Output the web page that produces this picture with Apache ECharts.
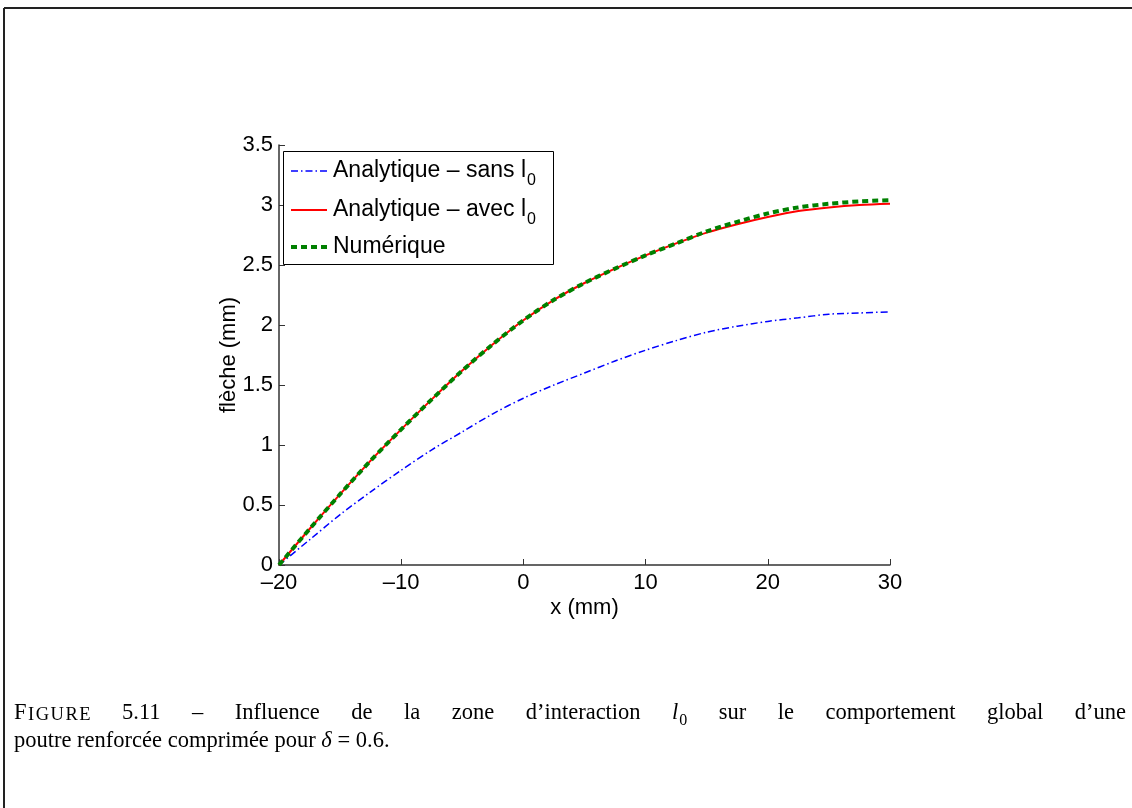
<!DOCTYPE html>
<html><head><meta charset="utf-8">
<script src="https://cdn.jsdelivr.net/npm/echarts@6/dist/echarts.min.js"></script>
<style>html,body{margin:0;padding:0;background:#fff}#c{width:1132px;height:808px}</style>
</head><body><div id="c"></div>
<script>
// ---- data ----
const xValues   = [-20,-17.5,-15,-12.5,-10,-7.5,-5,-2.5,0,2.5,5,7.5,10,12.5,15,17.5,20,22.5,25,27.5,30];
const sansL0    = [0,0.21,0.42,0.61,0.79,0.96,1.11,1.26,1.39,1.50,1.60,1.70,1.79,1.87,1.94,1.99,2.03,2.06,2.09,2.10,2.11];
const avecL0    = [0,0.30,0.59,0.87,1.13,1.38,1.62,1.84,2.04,2.21,2.35,2.47,2.58,2.68,2.77,2.84,2.90,2.95,2.98,3.00,3.01];
const numerique = [0,0.30,0.59,0.87,1.13,1.38,1.62,1.84,2.04,2.21,2.35,2.47,2.58,2.68,2.78,2.86,2.93,2.98,3.01,3.03,3.04];
const seriesNames = ['Analytique – sans l', 'Analytique – avec l', 'Numérique'];
const xTickMin = -20, xTickMax = 30, xTickStep = 10;
const yTickMin = 0, yTickMax = 3.5, yTickStep = 0.5;
const captionLine1 = ['FIGURE','5.11','–','Influence','de','la','zone','d’interaction','l0','sur','le','comportement','global','d’une'];
const captionLine2 = 'poutre renforcée comprimée pour δ = 0.6.';

const SANS = '"Liberation Sans", Arial, sans-serif';
const SERIF = '"Liberation Serif", "Times New Roman", serif';

const ctx = document.createElement('canvas').getContext('2d');
function w(text, font){ ctx.font = font; return ctx.measureText(text).width; }

const pair = a => xValues.map((x,i)=>[x,a[i]]);

const chart = echarts.init(document.getElementById('c'), null, {renderer:'canvas'});

// ---- legend (graphic) ----
const LF = 23;
const legendFont = LF + 'px ' + SANS;
const legendRows = [
  {y:171, color:'#0000ff', width:1.5, dash:[7,3,1.5,3], sub:true},
  {y:210, color:'#ff0000', width:2, dash:null, sub:true},
  {y:247, color:'#008000', width:4, dash:[6,4], sub:false}
];
const graphics = [];
graphics.push({type:'rect', shape:{x:283.5,y:151.5,width:270,height:113}, style:{fill:'#fff', stroke:'#000', lineWidth:1}, z:100});
legendRows.forEach((r,i)=>{
  graphics.push({type:'line', shape:{x1:291,y1:r.y,x2:327,y2:r.y}, style:{stroke:r.color, lineWidth:r.width, lineDash:r.dash||null}, z:101});
  graphics.push({type:'text', x:333, y:r.y, style:{text:seriesNames[i], font:legendFont, fill:'#000', align:'left', verticalAlign:'middle'}, z:101});
  if (r.sub){
    graphics.push({type:'text', x:333 + w(seriesNames[i], legendFont) + 1, y:r.y+10, style:{text:'0', font:'16px '+SANS, fill:'#000', align:'left', verticalAlign:'middle'}, z:101});
  }
});

// ---- page frame ----
graphics.push({type:'line', shape:{x1:4,y1:8,x2:1132,y2:8}, style:{stroke:'#222', lineWidth:2}});
graphics.push({type:'line', shape:{x1:4,y1:8,x2:4,y2:808}, style:{stroke:'#222', lineWidth:2}});

// ---- caption ----
const CF = 22.5;
const capFont = CF + 'px ' + SERIF;
const SCS = 18.5;
const scFont = SCS + 'px ' + SERIF;
const itFont = 'italic ' + CF + 'px ' + SERIF;
const subFont = '16px ' + SERIF;
function textAt(x, baseline, t, font, size){
  graphics.push({type:'text', x:x, y:baseline - 0.33*size, style:{text:t, font:font, fill:'#000', align:'left', verticalAlign:'middle'}});
}
function segs(word){
  if (word === 'FIGURE'){
    const letters = [['F',capFont,CF],['I',scFont,SCS],['G',scFont,SCS],['U',scFont,SCS],['R',scFont,SCS],['E',scFont,SCS]];
    const extra = 1.5;
    let off = 0; const out = [];
    letters.forEach((l,i)=>{ out.push({t:l[0],f:l[1],s:l[2],dx:off,dy:0}); off += w(l[0],l[1]) + (i<letters.length-1?extra:0); });
    out.width = off; return out;
  }
  if (word === 'l0'){
    const a = w('l',itFont);
    const out = [{t:'l',f:itFont,s:CF,dx:0,dy:0},{t:'0',f:subFont,s:16,dx:a+1,dy:5}];
    out.width = a + 1 + w('0',subFont); return out;
  }
  const out = [{t:word,f:capFont,s:CF,dx:0,dy:0}]; out.width = w(word,capFont); return out;
}
const L1x0 = 14, L1x1 = 1126, L1base = 721, L2base = 749;
const words = captionLine1.map(segs);
const total = words.reduce((a,s)=>a+s.width,0);
const gap = (L1x1 - L1x0 - total)/(words.length-1);
let cx = L1x0;
words.forEach(s=>{
  s.forEach(g=> textAt(cx + g.dx, L1base + g.dy, g.t, g.f, g.s));
  cx += s.width + gap;
});
const line2parts = captionLine2.split('δ');
let px2 = L1x0;
[[line2parts[0],capFont],['δ',itFont],[line2parts[1],capFont]].forEach(([t,f])=>{
  textAt(px2, L2base, t, f, CF);
  px2 += w(t,f);
});

const axisColor = '#333';
const option = {
  animation:false,
  backgroundColor:'#fff',
  grid:{left:279, right:242, top:145, bottom:243, containLabel:false},
  xAxis:{
    type:'value', min:xTickMin, max:xTickMax, interval:xTickStep,
    name:'x (mm)', nameLocation:'middle', nameGap:32, nameMoveOverlap:false,
    nameTextStyle:{fontFamily:SANS, fontSize:22, color:'#000'},
    axisLine:{show:true, onZero:false, lineStyle:{color:axisColor, width:1.5}},
    axisTick:{show:true, inside:true, length:6, lineStyle:{color:axisColor, width:1}},
    axisLabel:{fontFamily:SANS, fontSize:22, color:'#000', margin:7, formatter:v=>String(v).replace('-','–')},
    splitLine:{show:false}
  },
  yAxis:{
    type:'value', min:yTickMin, max:yTickMax, interval:yTickStep,
    name:'flèche (mm)', nameLocation:'middle', nameGap:39, nameRotate:90, nameMoveOverlap:false,
    nameTextStyle:{fontFamily:SANS, fontSize:22, color:'#000'},
    axisLine:{show:true, onZero:false, lineStyle:{color:axisColor, width:1.5}},
    axisTick:{show:true, inside:true, length:6, lineStyle:{color:axisColor, width:1}},
    axisLabel:{fontFamily:SANS, fontSize:22, color:'#000', margin:6, formatter:v=>String(v)},
    splitLine:{show:false}
  },
  series:[
    {name:seriesNames[0], type:'line', data:pair(sansL0), showSymbol:false, smooth:0.3, lineStyle:{color:'#0000ff', width:1.5, type:[7,3,1.5,3]}, z:2},
    {name:seriesNames[1], type:'line', data:pair(avecL0), showSymbol:false, smooth:0.3, lineStyle:{color:'#ff0000', width:2}, z:3},
    {name:seriesNames[2], type:'line', data:pair(numerique), showSymbol:false, smooth:0.3, lineStyle:{color:'#008000', width:4, type:[6,4]}, z:4}
  ],
  graphic: graphics
};
chart.setOption(option);
</script></body></html>
